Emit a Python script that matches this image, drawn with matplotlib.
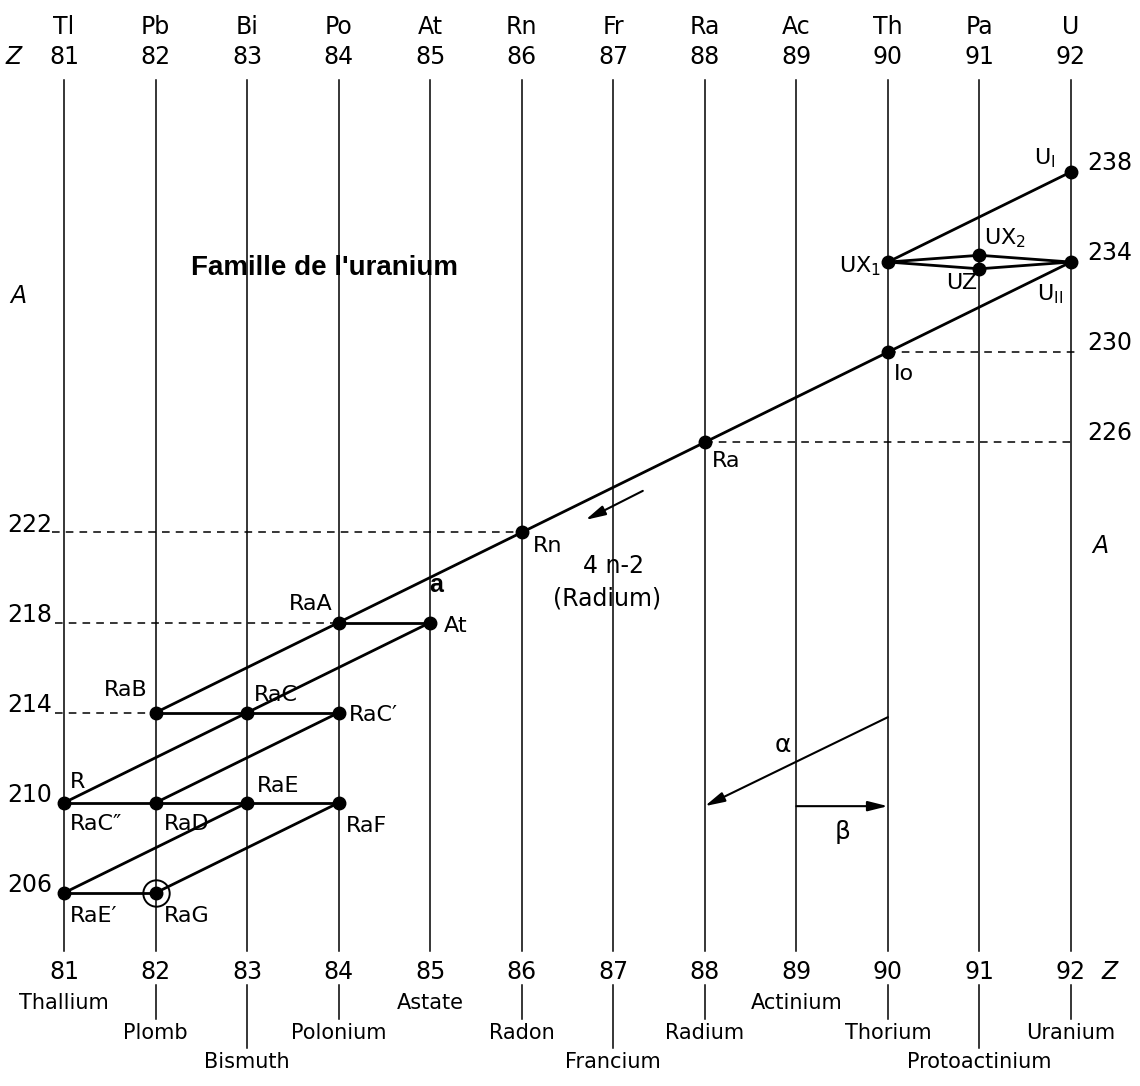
import matplotlib
matplotlib.use('Agg')
import matplotlib.pyplot as plt

plt.rcParams['font.family'] = ['DejaVu Sans']

# columns (atomic number) and element names
z_values = [81, 82, 83, 84, 85, 86, 87, 88, 89, 90, 91, 92]
symbols = ['Tl', 'Pb', 'Bi', 'Po', 'At', 'Rn', 'Fr', 'Ra', 'Ac', 'Th', 'Pa', 'U']
names = ['Thallium', 'Plomb', 'Bismuth', 'Polonium', 'Astate', 'Radon',
         'Francium', 'Radium', 'Actinium', 'Thorium', 'Protoactinium', 'Uranium']
name_rows = [0, 1, 2, 1, 0, 1, 2, 1, 0, 1, 2, 1]

# nuclides of the chain: label, Z, A
nuc_labels = [r'U$_\mathregular{I}$', r'UX$_\mathregular{1}$', r'UX$_\mathregular{2}$', 'UZ',
              r'U$_\mathregular{II}$', 'Io', 'Ra', 'Rn', 'RaA', 'At', 'RaB', 'RaC', 'RaC\u2032',
              'RaC\u2033', 'RaD', 'RaE', 'RaF', "RaE\u2032", 'RaG']
nuc_z = [92, 90, 91, 91, 92, 90, 88, 86, 84, 85, 82, 83, 84, 81, 82, 83, 84, 81, 82]
nuc_a = [238, 234, 234.3, 233.7, 234, 230, 226, 222, 218, 218, 214, 214, 214, 210, 210, 210, 210, 206, 206]

# decay links (from, to) by label index
links = [(0, 1), (1, 2), (2, 4), (1, 3), (3, 4), (4, 10), (8, 9), (9, 13),
         (10, 12), (12, 14), (13, 16), (15, 17), (16, 18), (17, 18)]

left_ticks = [222, 218, 214, 210, 206]
right_ticks = [238, 234, 230, 226]

# label offsets in pixels (dx, dy, ha)
offsets = [(-26, 14, 'center'), (-7, -4, 'right'), (5, 17, 'left'), (-18, -14, 'center'),
           (-21, -32, 'center'), (6, -22, 'left'), (7, -19, 'left'), (11, -14, 'left'),
           (-6, 19, 'right'), (14, -3, 'left'), (-8, 23, 'right'), (7, 18, 'left'),
           (10, -2, 'left'), (6, -21, 'left'), (8, -21, 'left'), (10, 17, 'left'),
           (7, -23, 'left'), (6, -23, 'left'), (8, -23, 'left')]

fig = plt.figure(figsize=(11.4, 10.86), dpi=100)
ax = fig.add_axes([0, 0, 1, 1])
ax.set_xlim(80.301, 92.754)
ax.set_ylim(197.43, 245.63)
ax.axis('off')

fs = 17
# vertical element lines and headers
for z, s in zip(z_values, symbols):
    ax.plot([z, z], [203.4, 242.1], color='black', lw=1.1)
    ax.text(z, 244.45, s, ha='center', va='center', fontsize=fs)
    ax.text(z, 243.1, str(z), ha='center', va='center', fontsize=fs)
    ax.text(z, 202.5, str(z), ha='center', va='center', fontsize=fs)
ax.text(80.45, 243.1, 'Z', ha='center', va='center', fontsize=fs, style='italic')
ax.text(92.42, 202.5, 'Z', ha='center', va='center', fontsize=fs, style='italic')

row_a = [201.12, 199.8, 198.5]
for z, n, r in zip(z_values, names, name_rows):
    ax.text(z, row_a[r], n, ha='center', va='center', fontsize=15)
    if r > 0:
        ax.plot([z, z], [201.9, row_a[r] + 0.6], color='black', lw=1.1)

# mass number guides
for a in left_ticks:
    ax.text(80.87, a + 0.35, str(a), ha='right', va='center', fontsize=fs)
for a in right_ticks:
    ax.text(92.18, a + 0.4, str(a), ha='left', va='center', fontsize=fs)

dash = dict(color='black', lw=1.1, ls=(0, (5, 4)))
ax.plot([80.87, 86], [222, 222], **dash)
ax.plot([80.9, 84], [218, 218], **dash)
ax.plot([80.9, 82], [214, 214], **dash)
ax.plot([90, 92.05], [230, 230], **dash)
ax.plot([88, 92.05], [226, 226], **dash)

# decay chain
for i, j in links:
    ax.plot([nuc_z[i], nuc_z[j]], [nuc_a[i], nuc_a[j]], color='black', lw=2)
ax.plot(nuc_z, nuc_a, 'o', color='black', ms=9)
# stable end product is circled
ax.plot(nuc_z[-1], nuc_a[-1], 'o', mfc='none', mec='black', ms=19, mew=1.4)

for lab, z, a, (dx, dy, ha) in zip(nuc_labels, nuc_z, nuc_a, offsets):
    ax.annotate(lab, (z, a), xytext=(dx, dy), textcoords='offset pixels',
                ha=ha, va='center', fontsize=16)
ax.annotate('R', (nuc_z[13], nuc_a[13]), xytext=(6, 21), textcoords='offset pixels',
            ha='left', va='center', fontsize=16)

# annotations
ax.text(83.85, 233.75, "Famille de l'uranium", ha='center', va='center',
        fontsize=20, fontweight='bold', family='Liberation Sans')
ax.text(85.07, 219.67, 'a', ha='center', va='center', fontsize=18,
        fontweight='bold', family='Liberation Sans')
ax.annotate('', xy=(86.67, 222.5), xytext=(87.35, 223.9),
            arrowprops=dict(arrowstyle='-|>,head_length=0.6,head_width=0.15',
                            color='black', lw=1.5, mutation_scale=20))
ax.text(87.0, 220.5, '4 n-2', ha='center', va='center', fontsize=17)
ax.text(86.93, 219.05, '(Radium)', ha='center', va='center', fontsize=17)

ax.text(80.5, 232.5, 'A', ha='center', va='center', fontsize=fs, style='italic')
ax.text(92.32, 221.4, 'A', ha='center', va='center', fontsize=fs, style='italic')

# legend arrows for alpha and beta decay
ax.annotate('', xy=(88, 209.85), xytext=(90, 213.8),
            arrowprops=dict(arrowstyle='-|>,head_length=0.6,head_width=0.15',
                            color='black', lw=1.5, mutation_scale=20, shrinkA=0, shrinkB=0))
ax.annotate('', xy=(90, 209.85), xytext=(89, 209.85),
            arrowprops=dict(arrowstyle='-|>,head_length=0.6,head_width=0.15',
                            color='black', lw=1.5, mutation_scale=20, shrinkA=0, shrinkB=0))
ax.text(88.85, 212.55, '\u03b1', ha='center', va='center', fontsize=18)
ax.text(89.5, 208.7, '\u03b2', ha='center', va='center', fontsize=18)

fig.savefig('out.png', dpi=100)
